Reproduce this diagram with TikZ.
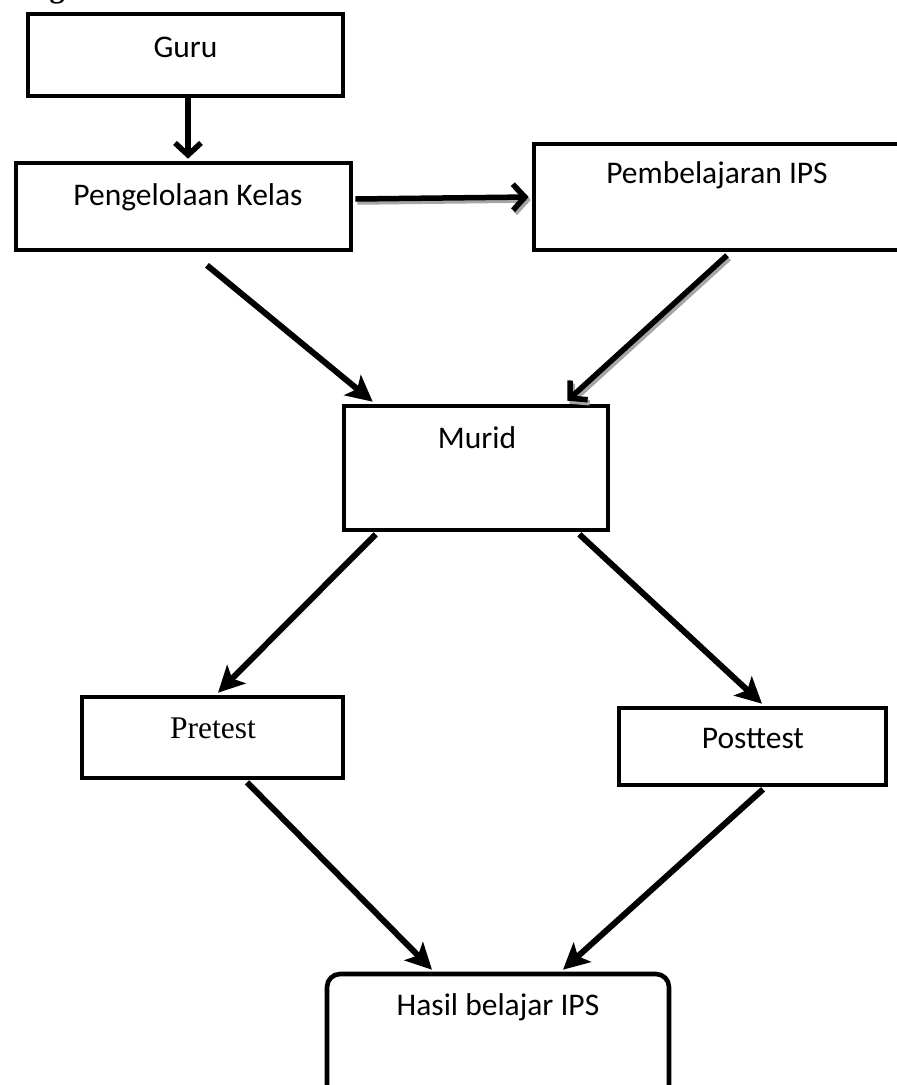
\documentclass[tikz,border=0pt]{standalone}
\usepackage{fontspec}
\setmainfont{Carlito}
\newfontfamily\timesf{Liberation Serif}
\usetikzlibrary{arrows.meta,calc}
\begin{document}
\begin{tikzpicture}[x=1pt,y=-1pt,
  box/.style={draw=black,line width=4.6pt,fill=white,inner sep=0pt},
  txt/.style={font=\fontsize{31.5}{37}\selectfont},
  conn/.style={line width=6pt,-{Stealth[length=26pt,width=26pt,inset=6pt]}},
  openconn/.style={line width=5.5pt,-{Straight Barb[length=12pt,width=26pt,line width=5.5pt]}},
  shadowconn/.style={openconn,draw=gray!70,transform canvas={shift={(2pt,-3pt)}}}
]
\useasboundingbox (0,0) rectangle (897,1085);
\clip (0,0) rectangle (897,1085);

% heading fragment
\node[font=\timesf\bfseries\fontsize{30}{36}\selectfont,anchor=base,inner sep=0pt] (head) at (57,-3) {g};

% boxes
\node[box,minimum width=315pt,minimum height=82pt,
  label={[txt,xshift=0pt,yshift=8pt]center:Guru}] (guru) at (185.5,55) {};
\node[box,minimum width=335pt,minimum height=87pt,
  label={[txt,xshift=4.5pt,yshift=9.5pt]center:Pengelolaan Kelas}] (pk) at (183.5,206.5) {};
\node[box,minimum width=426pt,minimum height=106pt,
  label={[txt,xshift=-30pt,yshift=22pt]center:Pembelajaran IPS}] (pips) at (747,197) {};
\node[box,minimum width=264pt,minimum height=124pt,
  label={[txt,xshift=1pt,yshift=30pt]center:Murid}] (murid) at (476,468) {};
\node[box,minimum width=261pt,minimum height=81pt,
  label={[txt,font=\timesf\fontsize{31.5}{37}\selectfont,xshift=0.5pt,yshift=9.5pt]center:Pretest}] (pre) at (212.5,737.5) {};
\node[box,minimum width=267pt,minimum height=77pt,
  label={[txt,xshift=0.5pt,yshift=8.5pt]center:Posttest}] (post) at (752.5,746.5) {};
\node[box,rounded corners=13pt,minimum width=342pt,minimum height=146pt,
  label={[txt,yshift=40pt]center:Hasil belajar IPS}] (hasil) at (498,1047) {};

% connectors
\draw[openconn] ($(guru.south)+(2.5,0)$) -- ($(pk.north)+(4.5,-2)$);
\draw[shadowconn] ($(pk.east)+(2,-7.5)$) -- ($(pips.west)+(-3,0)$);
\draw[openconn] ($(pk.east)+(2,-7.5)$) -- ($(pips.west)+(-3,0)$);
\draw[conn] ($(pk.south)+(23.5,13)$) -- ($(murid.north west)+(31,-2)$);
\draw[shadowconn] ($(pips.south)+(-20,3)$) -- ($(murid.north east)+(-43,-3)$);
\draw[openconn] ($(pips.south)+(-20,3)$) -- ($(murid.north east)+(-43,-3)$);
\draw[conn] ($(murid.south west)+(34,2)$) -- ($(pre.north)+(5.5,-2)$);
\draw[conn] ($(murid.south east)+(-31,2)$) -- ($(post.north)+(9.5,-2)$);
\draw[conn] ($(pre.south)+(34.5,2)$) -- ($(hasil.north)+(-66,-2)$);
\draw[conn] ($(post.south)+(10.5,2)$) -- ($(hasil.north)+(65,-2)$);
\end{tikzpicture}
\end{document}
